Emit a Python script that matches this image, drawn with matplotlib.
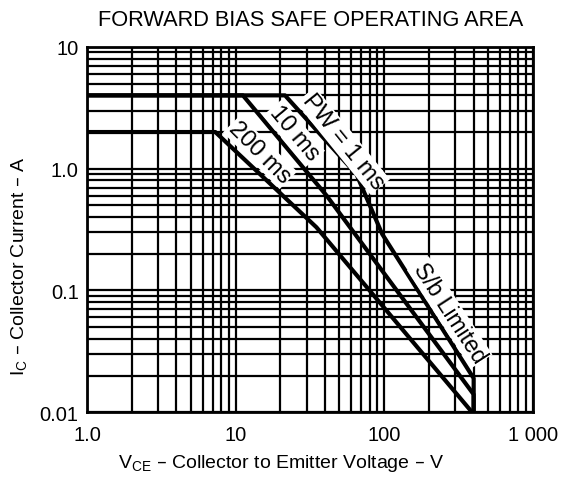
import matplotlib
matplotlib.use("Agg")
import matplotlib.pyplot as plt
import matplotlib.ticker as ticker

plt.rcParams["font.family"] = ["Liberation Sans", "DejaVu Sans"]

# safe operating area curves
vce_1ms = [1, 21.5, 65, 97, 400, 400]
ic_1ms = [4, 4, 0.9, 0.29, 0.019, 0.01]
vce_10ms = [1, 11.2, 41, 60, 400, 400]
ic_10ms = [4, 4, 0.6, 0.32, 0.014, 0.01]
vce_200ms = [1, 7.3, 35, 390]
ic_200ms = [2, 2, 0.33, 0.01]

x_ticks = [1, 10, 100, 1000]
x_labels = ["1.0", "10", "100", "1 000"]
y_ticks = [0.01, 0.1, 1, 10]
y_labels = ["0.01", "0.1", "1.0", "10"]

fig = plt.figure(figsize=(5.65, 4.89), dpi=100)
ax = fig.add_axes([0.154, 0.155, 0.789, 0.747])

ax.set_xscale("log")
ax.set_yscale("log")
ax.set_xlim(1, 1000)
ax.set_ylim(0.01, 10)

ax.xaxis.set_minor_locator(ticker.LogLocator(base=10, subs=range(2, 10)))
ax.yaxis.set_minor_locator(ticker.LogLocator(base=10, subs=range(2, 10)))
ax.xaxis.set_minor_formatter(ticker.NullFormatter())
ax.yaxis.set_minor_formatter(ticker.NullFormatter())
ax.grid(True, which="both", color="black", linewidth=1.6)
ax.set_xticks(x_ticks)
ax.set_xticklabels(x_labels)
ax.set_yticks(y_ticks)
ax.set_yticklabels(y_labels)
ax.tick_params(which="both", length=0, labelsize=14.5)
ax.tick_params(axis="x", pad=9)
ax.tick_params(axis="y", pad=6)
for s in ax.spines.values():
    s.set_linewidth(2)

ax.plot(vce_1ms, ic_1ms, color="black", linewidth=3)
ax.plot(vce_10ms, ic_10ms, color="black", linewidth=3)
ax.plot(vce_200ms, ic_200ms, color="black", linewidth=3)

box = dict(facecolor="white", edgecolor="none", pad=1)
ax.text(52.7, 1.69, "PW = 1 ms", rotation=-51, fontsize=17, ha="center", va="center", bbox=box)
ax.text(24.7, 1.96, "10 ms", rotation=-50, fontsize=17, ha="center", va="center", bbox=box)
ax.text(14.6, 1.37, "200 ms", rotation=-45, fontsize=17, ha="center", va="center", bbox=box)
ax.text(276, 0.066, "S/b Limited", rotation=-57, fontsize=16.5, ha="center", va="center", bbox=box)

fig.text(0.55, 0.959, "FORWARD BIAS SAFE OPERATING AREA", fontsize=15.7, ha="center", va="center")
fig.text(0.497, 0.053, r"V$_{\mathregular{CE}}$ – Collector to Emitter Voltage – V", fontsize=14, ha="center", va="center")
fig.text(0.035, 0.456, r"I$_{\mathregular{C}}$ – Collector Current – A", fontsize=14, ha="center", va="center", rotation=90)

fig.savefig("out.png", dpi=100)
